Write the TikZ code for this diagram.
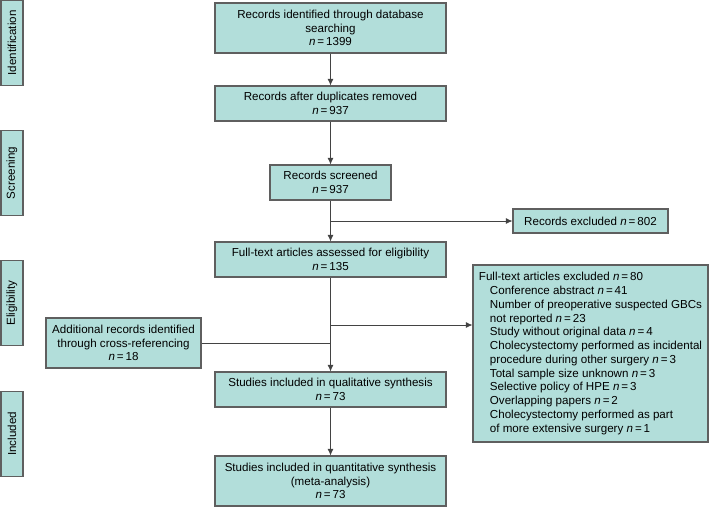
\documentclass[tikz,border=0pt]{standalone}
\usepackage{fontspec}
\setmainfont{Liberation Sans}
\usetikzlibrary{positioning,calc,arrows.meta}
\definecolor{boxfill}{RGB}{178,222,218}
\definecolor{boxline}{RGB}{95,95,95}
\tikzset{
    flow/.style={rectangle, draw=boxline, fill=boxfill, line width=0.8pt, align=center, inner sep=2pt, font=\fontsize{8.7}{10.3}\selectfont},
    wide/.style={flow, minimum width=173.25pt},
    phase/.style={rectangle, draw=boxline, fill=boxfill, line width=0.8pt, rotate=90, minimum width=63.75pt, minimum height=16.5pt, inner sep=0pt, font=\fontsize{8.7}{10.3}\selectfont},
    link/.style={draw=boxline!70!black, line width=0.6pt},
    arrow/.style={link, -{Latex[length=5pt,width=4.5pt]}},
}
\newcommand{\nval}[1]{\textit{n}\,=\,#1}
\newcommand{\ind}{\hspace*{8.25pt}}

\begin{document}
\begin{tikzpicture}[x=0.75pt, y=-0.75pt]
\useasboundingbox (0,0) rectangle (709,507);

% Phases
\node[phase] (pid) at (12,43) {Identification};
\node[phase] (psc) at (12,173) {Screening};
\node[phase] (pel) at (12,303) {Eligibility};
\node[phase] (pin) at (12,434) {Included};

% Flow boxes
\node[wide, minimum height=37.5pt] (ident) at (330.5,28) {Records identified through database\\searching\\\nval{1399}};
\node[wide, minimum height=26.25pt] (dedup) at (330.5,103.5) {Records after duplicates removed\\\nval{937}};
\node[flow, minimum width=90.75pt, minimum height=26.25pt] (scr) at (330.5,182.5) {Records screened\\\nval{937}};
\node[flow, minimum width=116.25pt, minimum height=18pt] (rexcl) at (590.5,221) {Records excluded \nval{802}};
\node[wide, minimum height=26.25pt] (ftx) at (330.5,259.5) {Full-text articles assessed for eligibility\\\nval{135}};
\node[flow, align=left, minimum width=176.25pt, minimum height=132.75pt, inner sep=2pt, font=\fontsize{8.7}{10.3}\selectfont] (fexcl) at (590.5,353.5) {%
Full-text articles excluded \nval{80}\\
\ind Conference abstract \nval{41}\\
\ind Number of preoperative suspected GBCs\\
\ind not reported \nval{23}\\
\ind Study without original data \nval{4}\\
\ind Cholecystectomy performed as incidental\\
\ind procedure during other surgery \nval{3}\\
\ind Total sample size unknown \nval{3}\\
\ind Selective policy of HPE \nval{3}\\
\ind Overlapping papers \nval{2}\\
\ind Cholecystectomy performed as part\\
\ind of more extensive surgery \nval{1}};
\node[flow, minimum width=116.25pt, minimum height=37.5pt] (addl) at (123.5,343) {Additional records identified\\through cross-referencing\\\nval{18}};
\node[wide, minimum height=26.25pt] (qual) at (330.5,389.5) {Studies included in qualitative synthesis\\\nval{73}};
\node[wide, minimum height=37.5pt] (quant) at (330.5,481) {Studies included in quantitative synthesis\\(meta-analysis)\\\nval{73}};

% Connectors
\draw[arrow] (ident) -- (dedup);
\draw[arrow] (dedup) -- (scr);
\draw[arrow] (scr) -- (ftx);
\coordinate (j1) at (scr.south |- rexcl.west);
\draw[arrow] (j1) -- (rexcl.west);
\draw[arrow] (ftx) -- (qual);
\coordinate (j2) at (330.5,325);
\draw[arrow] (j2) -- (j2 -| fexcl.west);
\draw[link] (addl.east) -- (addl.east -| ftx.south);
\draw[arrow] (qual) -- (quant);

\end{tikzpicture}
\end{document}
